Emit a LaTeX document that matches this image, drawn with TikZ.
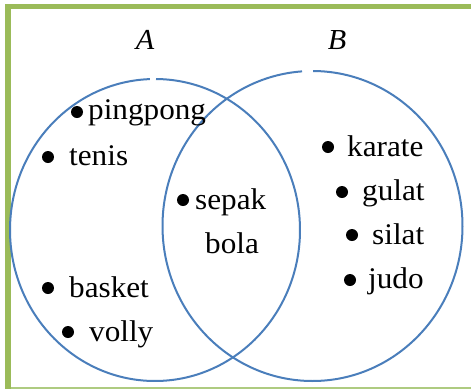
\documentclass[tikz,border=0pt]{standalone}
\usepackage{fontspec}
\setmainfont{Liberation Serif}
\definecolor{framegreen}{HTML}{9BBB59}
\definecolor{framelight}{HTML}{AECB80}
\definecolor{setblue}{HTML}{4A7EBB}
\newcommand\widetext[1]{\scalebox{1.04}[1]{#1}}
\tikzset{
  x=1pt, y=-1pt,
  item/.style={anchor=base west, inner sep=0pt, font=\fontsize{30}{34}\selectfont},
  setname/.style={anchor=base, inner sep=0pt, font=\fontsize{29}{33}\selectfont\itshape},
  dot/.style={circle, fill=black, inner sep=0pt, minimum size=12pt},
  setline/.style={draw=setblue, line width=2pt},
}
\begin{document}
\begin{tikzpicture}
\useasboundingbox (0,0) rectangle (471,389);
% frame
\draw[framegreen, line width=5pt] (5,6.5) -- (471,6.5);
\draw[framegreen, line width=6pt] (8,4) -- (8,389);
\draw[framelight, line width=2pt] (11,388) -- (471,388);

% set outlines (ellipses with a small break at the top)
\coordinate (cA) at (155,230);
\coordinate (cB) at (312.5,226);
\draw[setline] ([shift={(270.4:145 and 151)}]cA) arc[start angle=270.4, end angle=628, x radius=145, y radius=151];
\draw[setline] ([shift={(270.2:150 and 155)}]cB) arc[start angle=270.2, end angle=626, x radius=150, y radius=155];

% set names
\node[setname] (A) at (145,49) {\widetext{A}};
\node[setname] (B) at (337,49) {\widetext{B}};

% members of A only
\node[dot] (d1) at (77,112) {};
\node[item] (pingpong) at (88,119) {\widetext{pingpong}};
\node[dot] (d2) at (48,157) {};
\node[item] (tenis) at (69,165) {\widetext{tenis}};
\node[dot] (d3) at (48,288) {};
\node[item] (basket) at (69,297) {\widetext{basket}};
\node[dot] (d4) at (68,332) {};
\node[item] (volly) at (89,341) {\widetext{volly}};

% intersection
\node[dot] (d5) at (183,200) {};
\node[item] (sepak) at (195,209) {\widetext{sepak}};
\node[item] (bola) at (205,253) {\widetext{bola}};

% members of B only
\node[dot] (d6) at (328,147) {};
\node[item] (karate) at (347,156) {\widetext{karate}};
\node[dot] (d7) at (342,192) {};
\node[item] (gulat) at (362,200) {\widetext{gulat}};
\node[dot] (d8) at (352,235) {};
\node[item] (silat) at (372,244) {\widetext{silat}};
\node[dot] (d9) at (350,280) {};
\node[item] (judo) at (368,288) {\widetext{judo}};
\end{tikzpicture}
\end{document}
